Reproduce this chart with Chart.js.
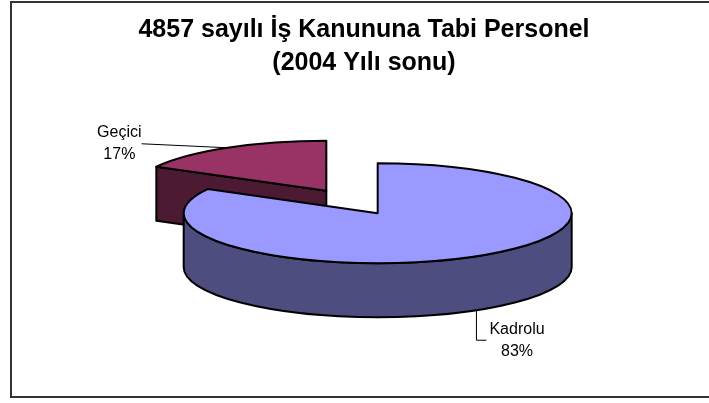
<!DOCTYPE html>
<html>
<head>
<meta charset="utf-8">
<script src="https://cdn.jsdelivr.net/npm/chart.js@4.4.1/dist/chart.umd.min.js"></script>
<style>
  html, body { margin: 0; padding: 0; background: #fff; }
</style>
</head>
<body>
<canvas id="pastaPersonel" width="709" height="403"></canvas>
<script>
const kategoriler = ['Kadrolu', 'Geçici'];
const degerler = [83, 17];
const ustRenkler = ['#9999FF', '#993366'];
const yanRenkler = ['#4D4D80', '#4D1A33'];
const patlama = [0, 0.52]; // dilimin merkezden çekilme oranı
const baslik = ['4857 sayılı İş Kanununa Tabi Personel', '(2004 Yılı sonu)'];

// 3B görünüm: elips yarıçapları ve kalınlık (px)
const gorunum = { rx: 194, ry: 50, derinlik: 54 };
// etiket çizgileri (dilim kenarından kırılma noktasına)
const etiketCizgileri = [
    { dx: 0, dy: 30, kuyruk: 10 },
    { dx: -86, dy: -4, kuyruk: 0 }
];

function dilimler(chart) {
    const meta = chart.getDatasetMeta(0);
    const area = chart.chartArea;
    const { rx, ry, derinlik } = gorunum;
    const list = meta.data.map((arc, i) => {
        const p = arc.getProps(['x', 'y', 'startAngle', 'endAngle'], true);
        const orta = (p.startAngle + p.endAngle) / 2;
        return {
            i, s: p.startAngle, e: p.endAngle, orta,
            cx: p.x + Math.cos(orta) * patlama[i] * rx,
            cy: p.y + Math.sin(orta) * patlama[i] * ry
        };
    });
    // tüm pastanın sınır kutusunu çizim alanında ortala
    let x0 = Infinity, x1 = -Infinity, y0 = Infinity, y1 = -Infinity;
    list.forEach(d => {
        const pts = [[d.cx, d.cy], [d.cx, d.cy + derinlik]];
        for (let k = 0; k <= 60; k++) {
            const a = d.s + (d.e - d.s) * k / 60;
            const x = d.cx + Math.cos(a) * rx, y = d.cy + Math.sin(a) * ry;
            pts.push([x, y], [x, y + derinlik]);
        }
        pts.forEach(([x, y]) => {
            x0 = Math.min(x0, x); x1 = Math.max(x1, x);
            y0 = Math.min(y0, y); y1 = Math.max(y1, y);
        });
    });
    const kx = (area.left + area.right) / 2 - (x0 + x1) / 2;
    const ky = (area.top + area.bottom) / 2 - (y0 + y1) / 2;
    list.forEach(d => { d.cx += kx; d.cy += ky; });
    return list;
}

const pasta3b = {
    id: 'pasta3b',
    beforeDraw(chart) {
        const ctx = chart.ctx;
        ctx.save();
        ctx.strokeStyle = '#333';
        ctx.lineWidth = 2;
        ctx.strokeRect(11, 2, 720, 395);
        ctx.restore();
    },
    beforeDatasetsDraw(chart) {
        const ctx = chart.ctx;
        const { rx, ry, derinlik: h } = gorunum;
        const sirali = dilimler(chart).sort((a, b) => a.cy - b.cy);
        ctx.save();
        ctx.lineWidth = 2;
        ctx.strokeStyle = '#000';
        ctx.lineJoin = 'round';
        sirali.forEach(d => {
            const nokta = a => [d.cx + Math.cos(a) * rx, d.cy + Math.sin(a) * ry];
            // kesit yüzleri
            const yuzler = [];
            if (Math.cos(d.s) < -1e-6) yuzler.push(d.s);
            if (Math.cos(d.e) > 1e-6) yuzler.push(d.e);
            yuzler.forEach(a => {
                const [px, py] = nokta(a);
                ctx.beginPath();
                ctx.moveTo(d.cx, d.cy);
                ctx.lineTo(px, py);
                ctx.lineTo(px, py + h);
                ctx.lineTo(d.cx, d.cy + h);
                ctx.closePath();
                ctx.fillStyle = yanRenkler[d.i];
                ctx.fill();
                ctx.stroke();
            });
            // dış duvar (ön yarı)
            for (let k = -1; k <= 1; k++) {
                const lo = Math.max(d.s, 2 * Math.PI * k);
                const hi = Math.min(d.e, 2 * Math.PI * k + Math.PI);
                if (hi - lo > 1e-6) {
                    ctx.beginPath();
                    ctx.ellipse(d.cx, d.cy, rx, ry, 0, lo, hi, false);
                    ctx.ellipse(d.cx, d.cy + h, rx, ry, 0, hi, lo, true);
                    ctx.closePath();
                    ctx.fillStyle = yanRenkler[d.i];
                    ctx.fill();
                    ctx.stroke();
                }
            }
            // üst yüz
            ctx.beginPath();
            ctx.moveTo(d.cx, d.cy);
            ctx.ellipse(d.cx, d.cy, rx, ry, 0, d.s, d.e, false);
            ctx.closePath();
            ctx.fillStyle = ustRenkler[d.i];
            ctx.fill();
            ctx.stroke();
        });
        ctx.restore();
        return false;
    },
    afterDraw(chart) {
        const ctx = chart.ctx;
        const { rx, ry, derinlik: h } = gorunum;
        const toplam = degerler.reduce((a, b) => a + b, 0);
        ctx.save();
        ctx.font = '16px Arial, "Liberation Sans"';
        ctx.fillStyle = '#000';
        ctx.strokeStyle = '#000';
        ctx.lineWidth = 1;
        ctx.textAlign = 'center';
        ctx.textBaseline = 'middle';
        dilimler(chart).forEach(d => {
            const c = etiketCizgileri[d.i];
            const ax = d.cx + Math.cos(d.orta) * rx;
            const ay = d.cy + Math.sin(d.orta) * ry + (Math.sin(d.orta) > 0 ? h : 0);
            const kx = ax + c.dx, ky = ay + c.dy;
            const sag = kx >= ax;
            ctx.beginPath();
            ctx.moveTo(ax, ay);
            ctx.lineTo(kx, ky);
            if (c.kuyruk) ctx.lineTo(kx + (sag ? c.kuyruk : -c.kuyruk), ky);
            ctx.stroke();
            const satirlar = [kategoriler[d.i], Math.round(degerler[d.i] * 100 / toplam) + '%'];
            const w = Math.max(...satirlar.map(t => ctx.measureText(t).width));
            const tx = sag ? kx + c.kuyruk + 3 + w / 2 : kx - c.kuyruk - w / 2;
            ctx.fillText(satirlar[0], tx, ky - 11);
            ctx.fillText(satirlar[1], tx, ky + 11);
        });
        ctx.restore();
    }
};

const ctxPasta = document.getElementById('pastaPersonel');
const chart = new Chart(ctxPasta, {
    type: 'pie',
    data: {
        labels: kategoriler,
        datasets: [{
            data: degerler,
            backgroundColor: ustRenkler,
            borderWidth: 0
        }]
    },
    options: {
        responsive: false,
        devicePixelRatio: 1,
        animation: false,
        layout: { padding: { left: 19, right: 0, top: 0, bottom: 35 } },
        plugins: {
            legend: { display: false },
            tooltip: { enabled: false },
            title: {
                display: true,
                text: baslik,
                color: '#000',
                font: { family: 'Arial, "Liberation Sans"', size: 25, weight: 'bold', lineHeight: 1.32 },
                padding: { top: 14, bottom: 10 }
            }
        }
    },
    plugins: [pasta3b]
});
</script>
</body>
</html>
